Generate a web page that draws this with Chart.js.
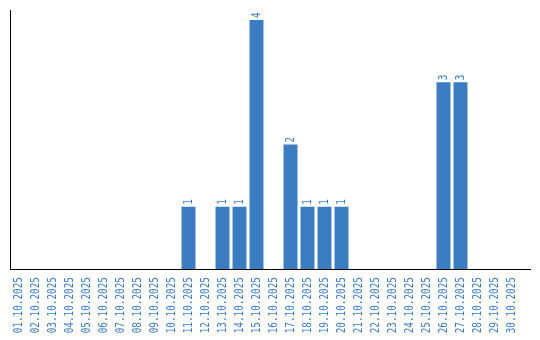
<!DOCTYPE html>
<html lang="de">
<head>
<meta charset="UTF-8">
<title>Chart</title>
<script src="https://cdn.jsdelivr.net/npm/chart.js"></script>
<style>
  body { margin: 0; background: #fff; }
  #grafico { display: block; }
</style>
</head>
<body>
<canvas id="grafico" width="540" height="340"></canvas>
<script>
// Tage im Oktober 2025
const tage = ['01.10.2025','02.10.2025','03.10.2025','04.10.2025','05.10.2025','06.10.2025','07.10.2025','08.10.2025','09.10.2025','10.10.2025',
  '11.10.2025','12.10.2025','13.10.2025','14.10.2025','15.10.2025','16.10.2025','17.10.2025','18.10.2025','19.10.2025','20.10.2025',
  '21.10.2025','22.10.2025','23.10.2025','24.10.2025','25.10.2025','26.10.2025','27.10.2025','28.10.2025','29.10.2025','30.10.2025'];
const anzahl = [0,0,0,0,0,0,0,0,0,0, 1,0,1,1,4,0,2,1,1,1, 0,0,0,0,0,3,3,0,0,0];

const blau = '#3b7dc3';
const schrift = '12px "DejaVu Sans Mono", monospace';
const stauchen = 0.78; // schmale Schrift wie im Original

// gedrehten Text schreiben (von unten nach oben lesbar)
function gedreht(ctx, text, x, y, align) {
  ctx.save();
  ctx.translate(x, y);
  ctx.rotate(-Math.PI / 2);
  ctx.scale(stauchen, 1);
  ctx.textAlign = align;
  ctx.textBaseline = 'middle';
  ctx.fillText(text, 0, 0);
  ctx.restore();
}

// Datumsbeschriftung, Achsenlinie und Werte über den Balken
const beschriftung = {
  id: 'beschriftung',
  afterDatasetsDraw(chart) {
    const ctx = chart.ctx;
    const a = chart.chartArea;
    const xs = chart.scales.x;
    const meta = chart.getDatasetMeta(0);
    ctx.save();
    ctx.fillStyle = blau;
    ctx.font = schrift;
    meta.data.forEach((bar, i) => {
      const v = anzahl[i];
      if (v) gedreht(ctx, String(v), bar.x, bar.y - 2, 'left');
    });
    tage.forEach((t, i) => {
      gedreht(ctx, t, xs.getPixelForTick(i), a.bottom + 8, 'right');
    });
    const y = Math.round(a.bottom) + 0.5;
    ctx.strokeStyle = '#000';
    ctx.lineWidth = 1;
    ctx.beginPath();
    ctx.moveTo(a.left, y);
    ctx.lineTo(a.right + 11, y);
    ctx.stroke();
    ctx.restore();
  }
};

new Chart(document.getElementById('grafico').getContext('2d'), {
  type: 'bar',
  data: {
    labels: tage,
    datasets: [{
      data: anzahl,
      backgroundColor: blau,
      borderWidth: 0,
      barPercentage: 0.82,
      categoryPercentage: 1
    }]
  },
  options: {
    responsive: false,
    animation: false,
    layout: { padding: { left: 10, top: 10, right: 20, bottom: 0 } },
    plugins: {
      legend: { display: false },
      tooltip: { enabled: false }
    },
    scales: {
      x: {
        grid: { display: false },
        border: { display: false },
        ticks: { display: false },
        afterFit(scale) { scale.height = 71; }
      },
      y: {
        min: 0,
        max: 4.16,
        grid: { display: false },
        border: { display: true, color: '#000', width: 1 },
        ticks: { display: false },
        afterFit(scale) { scale.width = 0; }
      }
    }
  },
  plugins: [beschriftung]
});
</script>
</body>
</html>
